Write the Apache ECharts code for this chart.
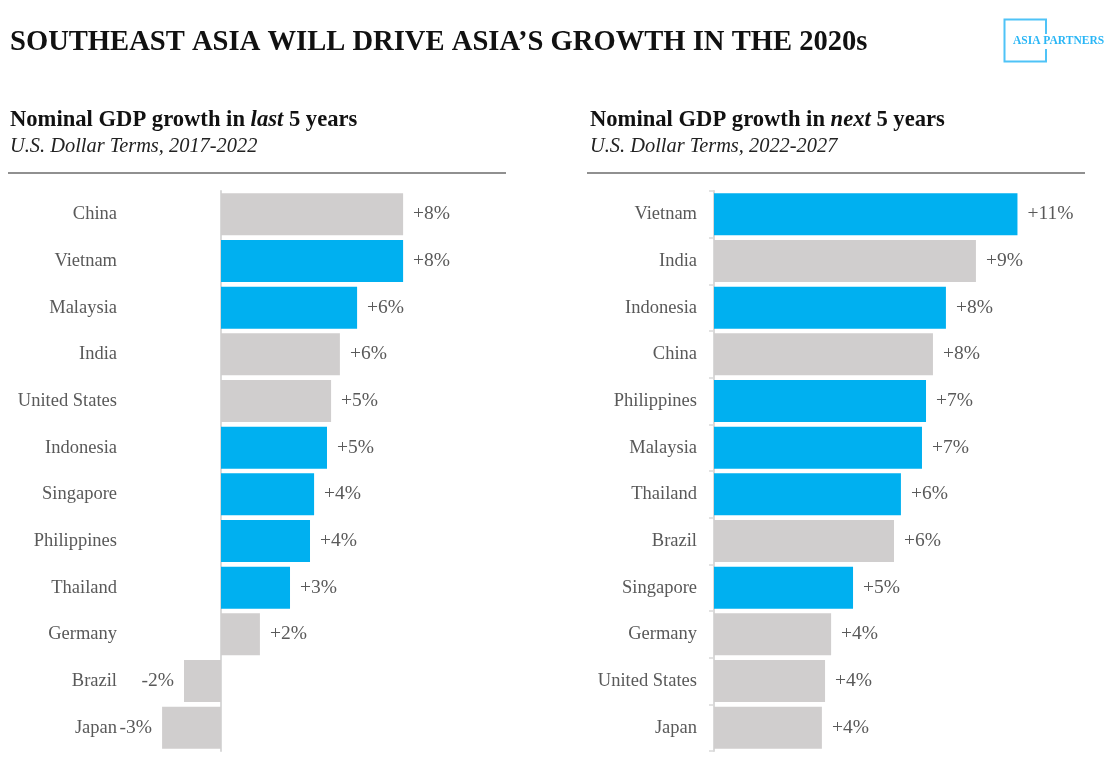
<!DOCTYPE html>
<html>
<head>
<meta charset="utf-8">
<script src="https://cdn.jsdelivr.net/npm/echarts@6/dist/echarts.min.js"></script>
<style>html,body{margin:0;padding:0;background:#fff}#c{width:1119px;height:783px}</style>
</head>
<body>
<div id="c"></div>
<script>
// ---- data ----
var leftCategories = ['China','Vietnam','Malaysia','India','United States','Indonesia','Singapore','Philippines','Thailand','Germany','Brazil','Japan'];
var leftValues = [8.47, 8.47, 6.33, 5.53, 5.12, 4.93, 4.33, 4.14, 3.21, 1.81, -1.72, -2.74];
var rightCategories = ['Vietnam','India','Indonesia','China','Philippines','Malaysia','Thailand','Brazil','Singapore','Germany','United States','Japan'];
var rightValues = [10.52, 9.08, 8.04, 7.59, 7.35, 7.21, 6.48, 6.24, 4.82, 4.06, 3.85, 3.74];
var southeastAsia = ['Vietnam','Malaysia','Indonesia','Singapore','Philippines','Thailand'];

var BLUE = '#00B0F0', GREY = '#D0CECE', TXT = '#595959';
var SERIF = '"Liberation Serif", "Times New Roman", serif';

function items(cats, vals) {
  return vals.map(function (v, i) {
    return {
      value: v,
      itemStyle: { color: southeastAsia.indexOf(cats[i]) >= 0 ? BLUE : GREY },
      label: { position: v < 0 ? 'left' : 'right' }
    };
  });
}
function fmt(p) {
  var r = Math.round(p.value);
  return (r > 0 ? '+' : '') + r + '%';
}
function labelAxis(grid, cats, margin) {
  return {
    gridIndex: grid, type: 'category', data: cats, inverse: true, position: 'left',
    axisLine: { show: false, onZero: false }, axisTick: { show: false },
    axisLabel: { margin: margin, color: TXT, fontSize: 18.5, fontFamily: SERIF, padding: [2, 0, 0, 0] }
  };
}
function zeroAxis(grid, cats, ticks) {
  return {
    gridIndex: grid, type: 'category', data: cats, inverse: true, position: 'left',
    axisLine: { show: true, onZero: true, lineStyle: { color: '#D9D9D9', width: 2 } },
    axisTick: { show: ticks, length: 5, lineStyle: { color: '#D9D9D9', width: 1.5 } },
    axisLabel: { show: false }
  };
}
var labelStyle = { show: true, formatter: fmt, distance: 10, color: TXT, fontSize: 19.5, fontFamily: SERIF, padding: [2, 0, 0, 0] };

var chart = echarts.init(document.getElementById('c'), null, { renderer: 'canvas' });
chart.setOption({
  animation: false,
  backgroundColor: '#fff',
  title: [
    { text: 'SOUTHEAST ASIA WILL DRIVE ASIA\u2019S GROWTH IN THE 2020s', left: 10, top: 28,
      textStyle: { fontFamily: SERIF, fontWeight: 'bold', fontSize: 28.6, color: '#111' }, padding: 0 },
    { text: '{b|Nominal GDP growth in }{bi|last}{b| 5 years}', left: 10, top: 109, padding: 0,
      textStyle: { rich: {
        b: { fontFamily: SERIF, fontWeight: 'bold', fontSize: 22.6, color: '#111' },
        bi: { fontFamily: SERIF, fontWeight: 'bold', fontStyle: 'italic', fontSize: 22.6, color: '#111' } } } },
    { text: 'U.S. Dollar Terms, 2017-2022', left: 10, top: 137, padding: 0,
      textStyle: { fontFamily: SERIF, fontStyle: 'italic', fontWeight: 'normal', fontSize: 20.4, color: '#222' } },
    { text: '{b|Nominal GDP growth in }{bi|next}{b| 5 years}', left: 590, top: 109, padding: 0,
      textStyle: { rich: {
        b: { fontFamily: SERIF, fontWeight: 'bold', fontSize: 22.6, color: '#111' },
        bi: { fontFamily: SERIF, fontWeight: 'bold', fontStyle: 'italic', fontSize: 22.6, color: '#111' } } } },
    { text: 'U.S. Dollar Terms, 2022-2027', left: 590, top: 137, padding: 0,
      textStyle: { fontFamily: SERIF, fontStyle: 'italic', fontWeight: 'normal', fontSize: 20.4, color: '#222' } }
  ],
  grid: [
    { left: 135, top: 191, width: 301, height: 560 },
    { left: 714, top: 191, width: 375, height: 560 }
  ],
  xAxis: [
    { gridIndex: 0, type: 'value', min: -4, max: 10, show: false },
    { gridIndex: 1, type: 'value', min: 0, max: 13, show: false }
  ],
  yAxis: [
    labelAxis(0, leftCategories, 18),
    zeroAxis(0, leftCategories, false),
    labelAxis(1, rightCategories, 17),
    zeroAxis(1, rightCategories, true)
  ],
  series: [
    { type: 'bar', xAxisIndex: 0, yAxisIndex: 0, barCategoryGap: '10%',
      data: items(leftCategories, leftValues), label: labelStyle, z: 1 },
    { type: 'bar', xAxisIndex: 1, yAxisIndex: 2, barCategoryGap: '10%',
      data: items(rightCategories, rightValues), label: labelStyle, z: 1 }
  ],
  graphic: [
    { type: 'line', shape: { x1: 8, y1: 173, x2: 506, y2: 173 }, style: { stroke: '#6B6B6B', lineWidth: 1.5 } },
    { type: 'line', shape: { x1: 587, y1: 173, x2: 1085, y2: 173 }, style: { stroke: '#6B6B6B', lineWidth: 1.5 } },
    { type: 'polyline', shape: { points: [[1046, 34], [1046, 19.5], [1004.5, 19.5], [1004.5, 61.5], [1046, 61.5], [1046, 49]] },
      style: { stroke: '#4FC3F7', lineWidth: 2, fill: null } },
    { type: 'text', x: 1013, y: 41.5, style: { text: 'ASIA PARTNERS', fill: '#29B6F6', font: 'bold 11.5px ' + SERIF, verticalAlign: 'middle', align: 'left' } }
  ]
});
</script>
</body>
</html>
